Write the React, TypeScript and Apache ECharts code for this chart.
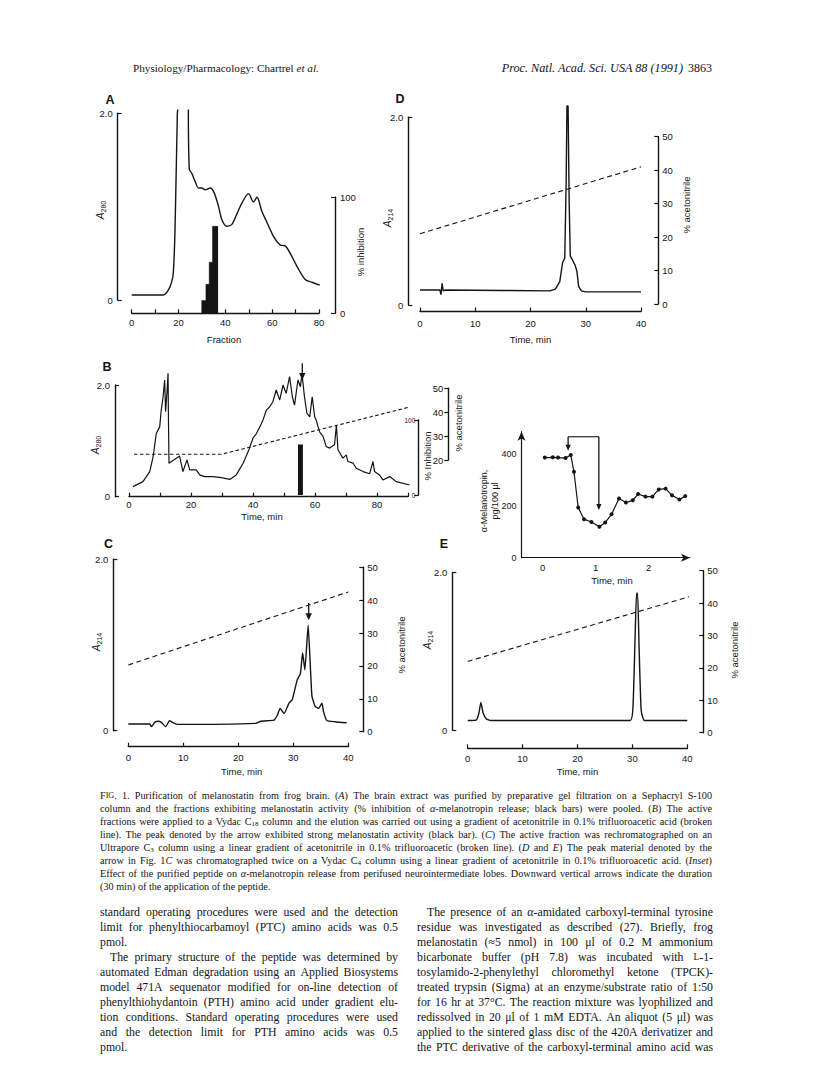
import React, { useEffect, useRef } from 'react';
import * as echarts from 'echarts';

// ---------------- DATA ----------------
// Panel A – gel filtration, A280 vs fraction
const aRiseFraction = [0, 13.5, 15.7, 17.1, 17.8, 18.5, 19.5, 19.7];
const aRiseA280 = [0.054, 0.054, 0.108, 0.197, 0.3, 0.75, 2.0, 2.04];
const aFallFraction = [24.2, 24.6, 25.6, 27.1, 28.5, 29.9, 31.4, 33.5, 35.2, 37.1, 38.5, 40.6, 42.8, 44.9, 47.1, 49.9, 52.0, 53.5, 55.6, 57.8, 60.6, 63.4, 65.6, 67.7, 70.6, 74.1, 77.0, 80.3];
const aFallA280 = [2.04, 1.4, 1.36, 1.27, 1.2, 1.2, 1.18, 1.2, 1.15, 1.0, 0.86, 0.79, 0.81, 0.92, 1.04, 1.14, 1.05, 1.1, 0.95, 0.83, 0.68, 0.59, 0.58, 0.5, 0.36, 0.22, 0.19, 0.16];
const aBarFraction = [29.8, 31.7, 33.1, 34.5, 36.9];
const aBarInhibition = [11, 25, 44, 75, 75];

// Panel B – Vydac C18
const bTime = [1.3, 4.5, 6.7, 7.8, 8.8, 9.9, 10.4, 11.0, 11.5, 11.8, 12.3, 12.6, 12.7, 12.9, 13.7, 15.3, 16.3, 17.4, 18.7, 19.6, 21.7, 22.8, 24.4, 27.1, 29.8, 32.5, 34.6, 36.8, 38.7, 40.0, 41.1, 42.2, 43.2, 44.3, 45.4, 46.4, 47.5, 48.6, 49.7, 50.7, 51.8, 52.7, 53.4, 54.5, 55.3, 55.8, 56.6, 57.4, 58.3, 59.1, 59.9, 60.4, 61.0, 61.5, 62.6, 63.6, 64.7, 66.3, 66.9, 67.4, 69.0, 70.1, 70.6, 72.3, 73.3, 75.5, 77.6, 78.7, 79.2, 80.8, 81.9, 84.1, 86.2, 90.5];
const bA280 = [0.18, 0.27, 0.45, 0.72, 1.13, 1.25, 1.55, 1.79, 2.09, 1.52, 1.91, 2.21, 1.52, 0.6, 0.63, 0.69, 0.73, 0.45, 0.66, 0.48, 0.48, 0.39, 0.36, 0.36, 0.34, 0.31, 0.39, 0.6, 0.84, 1.05, 1.13, 1.25, 1.37, 1.55, 1.61, 1.7, 1.91, 1.73, 2.0, 1.85, 2.15, 1.79, 1.64, 2.09, 1.97, 2.2, 1.79, 1.49, 1.43, 1.79, 1.43, 1.37, 1.25, 1.16, 1.08, 0.9, 0.87, 0.93, 1.28, 0.84, 0.69, 0.75, 0.63, 0.6, 0.51, 0.45, 0.41, 0.63, 0.45, 0.39, 0.3, 0.36, 0.27, 0.21];
const bGradTime = [1.6, 29.8, 91];
const bGradAcetonitrile = [22.4, 22.4, 42.3];
const bBarTime = [54.5, 56.1];
const bBarInhibition = [67, 67];
const bArrow = [55.9, 2.39, 2.09]; // time, from A280, to A280

// Panel C – Ultrapore C3
const cTime = [0, 3.9, 4.2, 4.8, 5.4, 6.0, 6.8, 7.5, 8.1, 8.9, 23.2, 24.1, 25.6, 26.5, 27.1, 27.6, 28.3, 29.2, 29.8, 30.7, 31.3, 31.7, 32.1, 32.7, 33.1, 33.4, 34.0, 34.6, 35.2, 35.5, 36.1, 37.6, 39.7];
const cA214 = [0.078, 0.078, 0.047, 0.097, 0.11, 0.097, 0.047, 0.117, 0.093, 0.074, 0.086, 0.11, 0.117, 0.124, 0.18, 0.26, 0.2, 0.32, 0.36, 0.59, 0.67, 0.91, 0.71, 1.23, 0.75, 0.4, 0.28, 0.26, 0.32, 0.22, 0.12, 0.105, 0.093];
const cGradTime = [0, 40];
const cGradAcetonitrile = [20.3, 42.5];
const cArrow = [32.8, 1.49, 1.29];

// Panel D – Vydac C4 (1st)
const dTime = [0, 3.6, 3.8, 4.0, 4.2, 4.6, 15, 23.5, 24.5, 25.3, 25.8, 26.2, 26.45, 26.6, 26.8, 27.0, 27.2, 27.6, 28.1, 28.4, 28.7, 29.2, 30, 40];
const dA214 = [0.16, 0.16, 0.11, 0.23, 0.15, 0.16, 0.155, 0.15, 0.17, 0.25, 0.45, 0.5, 1.3, 2.12, 2.12, 1.1, 0.52, 0.48, 0.42, 0.36, 0.2, 0.15, 0.14, 0.14];
const dGradTime = [0, 40];
const dGradAcetonitrile = [21, 41];

// Panel E – Vydac C4 (2nd)
const eTime = [0, 1.5, 2.0, 2.4, 2.8, 3.4, 4.2, 29.6, 30.1, 30.5, 30.75, 30.95, 31.2, 31.6, 32.2, 40];
const eA214 = [0.12, 0.125, 0.2, 0.35, 0.22, 0.14, 0.12, 0.12, 0.28, 1.2, 1.74, 1.74, 1.1, 0.25, 0.12, 0.12];
const eGradTime = [0, 40.4];
const eGradAcetonitrile = [22, 42];

// Inset – alpha-MSH release
const insetTime = [0.04, 0.19, 0.29, 0.43, 0.53, 0.59, 0.67, 0.78, 0.92, 1.07, 1.18, 1.3, 1.44, 1.57, 1.7, 1.8, 1.94, 2.07, 2.19, 2.32, 2.44, 2.58, 2.69];
const insetMsh = [387, 388, 387, 385, 397, 332, 194, 149, 138, 120, 136, 168, 229, 213, 222, 246, 236, 236, 264, 267, 241, 225, 238];
const insetPulse = [0.48, 1.06, 467.5, 413, 184]; // start, end, bracket level, left tip, right tip

// Tick label texts
const absTickLabels: Record<string, string> = { '0': '0', '2': '2.0' };

// Text content
const captionLines = [
  'F{sc|IG}. 1.  Purification of melanostatin from frog brain. ({i|A}) The brain extract was purified by preparative gel filtration on a Sephacryl S-100',
  'column and the fractions exhibiting melanostatin activity (% inhibition of {i|α}-melanotropin release; black bars) were pooled. ({i|B}) The active',
  'fractions were applied to a Vydac C{sub|18} column and the elution was carried out using a gradient of acetonitrile in 0.1% trifluoroacetic acid (broken',
  'line). The peak denoted by the arrow exhibited strong melanostatin activity (black bar). ({i|C}) The active fraction was rechromatographed on an',
  'Ultrapore C{sub|3} column using a linear gradient of acetonitrile in 0.1% trifluoroacetic (broken line). ({i|D} and {i|E}) The peak material denoted by the',
  'arrow in Fig. 1{i|C} was chromatographed twice on a Vydac C{sub|4} column using a linear gradient of acetonitrile in 0.1% trifluoroacetic acid. ({i|Inset})',
  'Effect of the purified peptide on {i|α}-melanotropin release from perifused neurointermediate lobes. Downward vertical arrows indicate the duration',
  '(30 min) of the application of the peptide.',
];
const captionJustified = [true, true, true, true, true, true, true, false];
const leftColumn = [
  'standard operating procedures were used and the detection',
  'limit for phenylthiocarbamoyl (PTC) amino acids was 0.5',
  'pmol.',
  '   The primary structure of the peptide was determined by',
  'automated Edman degradation using an Applied Biosystems',
  'model 471A sequenator modified for on-line detection of',
  'phenylthiohydantoin (PTH) amino acid under gradient elu-',
  'tion conditions. Standard operating procedures were used',
  'and the detection limit for PTH amino acids was 0.5',
  'pmol.',
];
const leftJustified = [true, true, false, true, true, true, true, true, true, false];
const rightColumn = [
  '   The presence of an {i|α}-amidated carboxyl-terminal tyrosine',
  'residue was investigated as described (27). Briefly, frog',
  'melanostatin (≈5 nmol) in 100 μl of 0.2 M ammonium',
  'bicarbonate buffer (pH 7.8) was incubated with {sc|L}-1-',
  'tosylamido-2-phenylethyl chloromethyl ketone (TPCK)-',
  'treated trypsin (Sigma) at an enzyme/substrate ratio of 1:50',
  'for 16 hr at 37°C. The reaction mixture was lyophilized and',
  'redissolved in 20 μl of 1 mM EDTA. An aliquot (5 μl) was',
  'applied to the sintered glass disc of the 420A derivatizer and',
  'the PTC derivative of the carboxyl-terminal amino acid was',
];

// ---------------- STYLE / LAYOUT ----------------
const INK = '#141414';
const SANS = "'Liberation Sans', Arial, Helvetica, sans-serif";
const SERIF = "'Liberation Serif', 'Times New Roman', serif";
const AXW = 1.4;

const zip = (xs: number[], ys: number[]) => xs.map((x, i) => [x, ys[i]]);

const grids = [
  { left: 131.7, top: 113.3, width: 187.3, height: 186.7 }, // 0 A
  { left: 131.7, top: 197.3, width: 187.3, height: 116 }, // 1 A inhibition
  { left: 420, top: 117.3, width: 221, height: 187.7 }, // 2 D
  { left: 420, top: 136.7, width: 221, height: 167.3 }, // 3 D acetonitrile
  { left: 129, top: 385, width: 279, height: 111.7 }, // 4 B
  { left: 129, top: 420, width: 279, height: 75 }, // 5 B inhibition
  { left: 129, top: 388.3, width: 279, height: 71.7 }, // 6 B acetonitrile
  { left: 128.3, top: 559.3, width: 220, height: 171.4 }, // 7 C
  { left: 128.3, top: 567.3, width: 220, height: 164.4 }, // 8 C acetonitrile
  { left: 467.7, top: 572.7, width: 219.6, height: 157.3 }, // 9 E
  { left: 467.7, top: 570.7, width: 219.6, height: 162 }, // 10 E acetonitrile
  { left: 521.5, top: 431.7, width: 168.5, height: 126 }, // 11 inset
].map((g) => ({ ...g, containLabel: false, outerBoundsMode: 'none' }));

const labelBase = { color: INK, fontFamily: SANS, fontSize: 9.5 };

function xAx(grid: number, min: number, max: number, interval: number, offset: number, every: number, margin: number, show = true) {
  return {
    type: 'value', gridIndex: grid, min, max, interval, position: 'bottom', offset, show,
    axisLine: { show: true, onZero: false, lineStyle: { color: INK, width: AXW } },
    axisTick: { show: true, inside: true, length: 4, lineStyle: { color: INK, width: 1.2 } },
    axisLabel: { ...labelBase, margin, showMinLabel: true, showMaxLabel: true, formatter: (v: number) => (v % every === 0 ? String(v) : '') },
    splitLine: { show: false },
  };
}
function hiddenX(grid: number, min: number, max: number) {
  return { type: 'value', gridIndex: grid, min, max, show: false, splitLine: { show: false } };
}
function yLeft(grid: number, offset: number) {
  return {
    type: 'value', gridIndex: grid, min: 0, max: 2, interval: 2, position: 'left', offset,
    axisLine: { show: true, onZero: false, lineStyle: { color: INK, width: AXW } },
    axisTick: { show: true, inside: true, length: 4, lineStyle: { color: INK, width: 1.2 } },
    axisLabel: { ...labelBase, margin: 5, showMinLabel: true, showMaxLabel: true, formatter: (v: number) => absTickLabels[String(v)] ?? '' },
    splitLine: { show: false },
  };
}
function yRight(grid: number, min: number, max: number, interval: number, offset: number, inside = false, fontSize = 9.5, margin = 4) {
  return {
    type: 'value', gridIndex: grid, min, max, interval, position: 'right', offset,
    axisLine: { show: true, onZero: false, lineStyle: { color: INK, width: AXW } },
    axisTick: { show: true, inside: true, length: 4, lineStyle: { color: INK, width: 1.2 } },
    axisLabel: { ...labelBase, fontSize, inside, margin, showMinLabel: true, showMaxLabel: true, formatter: (v: number) => String(v) },
    splitLine: { show: false },
  };
}

const xAxes = [
  xAx(0, 0, 80, 10, 13.3, 20, 4),
  hiddenX(1, 0, 80),
  xAx(2, 0, 40, 10, 6.5, 10, 7),
  hiddenX(3, 0, 40),
  xAx(4, 0, 90, 10, 0, 20, 3),
  hiddenX(5, 0, 90),
  hiddenX(6, 0, 90),
  xAx(7, 0, 40, 10, 16, 10, 6),
  hiddenX(8, 0, 40),
  xAx(9, 0, 40, 10, 18.3, 10, 5),
  hiddenX(10, 0, 40),
  {
    type: 'value', gridIndex: 11, min: -0.4, max: 2.78, interval: 0.2, position: 'bottom',
    axisLine: { show: true, onZero: false, symbol: ['none', 'arrow'], symbolSize: [6, 9], lineStyle: { color: INK, width: 1.2 } },
    axisTick: { show: false },
    axisLabel: {
      ...labelBase, margin: 5,
      formatter: (v: number) => {
        const r = Math.round(v);
        return Math.abs(v - r) < 1e-6 && r >= 0 ? String(r) : '';
      },
    },
    splitLine: { show: false },
  },
];

const yAxes = [
  yLeft(0, 14),
  yRight(1, 0, 100, 100, 16, false, 9.5, 5),
  yLeft(2, 11.7),
  yRight(3, 0, 50, 10, 17.3),
  yLeft(4, 14),
  yRight(5, 0, 100, 100, 10.3, true, 6.5, 3),
  yRight(6, 20, 50, 10, 40.3, true, 9.5, 5),
  yLeft(7, 15),
  yRight(8, 0, 50, 10, 15),
  yLeft(9, 15.4),
  yRight(10, 0, 50, 10, 16),
  {
    type: 'value', gridIndex: 11, min: 0, max: 487, interval: 200, position: 'left',
    axisLine: { show: true, onZero: false, symbol: ['none', 'arrow'], symbolSize: [6, 9], lineStyle: { color: INK, width: 1.2 } },
    axisTick: { show: false },
    axisLabel: { ...labelBase, fontSize: 9, margin: 5, formatter: (v: number) => (v % 200 === 0 ? String(v) : '') },
    splitLine: { show: false },
  },
];

function lineS(idx: number, xs: number[], ys: number[], extra: any = {}) {
  return {
    type: 'line', xAxisIndex: idx, yAxisIndex: idx, data: zip(xs, ys), symbol: 'none', showSymbol: false,
    lineStyle: { color: INK, width: 1.4 }, itemStyle: { color: INK }, silent: true, animation: false, z: 3, ...extra,
  };
}
const dashed = (idx: number, xs: number[], ys: number[]) =>
  lineS(idx, xs, ys, { clip: false, lineStyle: { color: INK, width: 1.1, type: [5, 3.5] } });
const barArea = (idx: number, xs: number[], ys: number[]) =>
  lineS(idx, xs, ys, { step: 'end', areaStyle: { color: INK, opacity: 1 }, lineStyle: { color: INK, width: 0.5 } });

function downArrow(x1: number, y1: number, x2: number, y2: number, w: number, h: number) {
  return [
    { type: 'line', shape: { x1, y1, x2, y2: y2 - h + 1 }, style: { stroke: INK, lineWidth: 1.3 } },
    { type: 'polygon', shape: { points: [[x2 - w, y2 - h], [x2 + w, y2 - h], [x2, y2]] }, style: { fill: INK } },
  ];
}

function arrowS(idx: number, spec: number[]) {
  return {
    type: 'custom', xAxisIndex: idx, yAxisIndex: idx, silent: true, clip: false, z: 5,
    data: [spec], encode: { x: 0, y: [1, 2] },
    renderItem: (_p: any, api: any) => {
      const a = api.coord([api.value(0), api.value(1)]);
      const b = api.coord([api.value(0), api.value(2)]);
      return { type: 'group', children: downArrow(a[0], a[1], b[0], b[1], 3.2, 7) };
    },
  };
}

const bracketS = {
  type: 'custom', xAxisIndex: 11, yAxisIndex: 11, silent: true, clip: false, z: 5,
  data: [insetPulse], encode: { x: [0, 1], y: [2, 3, 4] },
  renderItem: (_p: any, api: any) => {
    const p0 = api.coord([api.value(0), api.value(2)]);
    const p1 = api.coord([api.value(1), api.value(2)]);
    const tl = api.coord([api.value(0), api.value(3)]);
    const tr = api.coord([api.value(1), api.value(4)]);
    return {
      type: 'group',
      children: [
        { type: 'line', shape: { x1: p0[0], y1: p0[1], x2: p1[0], y2: p1[1] }, style: { stroke: INK, lineWidth: 1.1 } },
        ...downArrow(p0[0], p0[1], tl[0], tl[1], 2.6, 6),
        ...downArrow(p1[0], p1[1], tr[0], tr[1], 2.6, 6),
      ],
    };
  },
};

const series = [
  // A
  lineS(0, aRiseFraction, aRiseA280, { clip: false, smooth: 0.2 }),
  lineS(0, aFallFraction, aFallA280, { clip: false, smooth: 0.3 }),
  barArea(1, aBarFraction, aBarInhibition),
  // D
  lineS(2, dTime, dA214, { clip: false }),
  dashed(3, dGradTime, dGradAcetonitrile),
  // B
  lineS(4, bTime, bA280, { clip: false, lineStyle: { color: INK, width: 1.2 } }),
  arrowS(4, bArrow),
  barArea(5, bBarTime, bBarInhibition),
  lineS(6, bGradTime, bGradAcetonitrile, { clip: false, lineStyle: { color: INK, width: 1.1, type: [3.5, 2.5] } }),
  // C
  lineS(7, cTime, cA214, { clip: false, smooth: 0.15 }),
  arrowS(7, cArrow),
  dashed(8, cGradTime, cGradAcetonitrile),
  // E
  lineS(9, eTime, eA214, { clip: false, smooth: 0.15 }),
  dashed(10, eGradTime, eGradAcetonitrile),
  // Inset
  lineS(11, insetTime, insetMsh, { symbol: 'circle', showSymbol: true, symbolSize: 4, lineStyle: { color: INK, width: 1.2 } }),
  bracketS,
];

// ---------------- TEXT (graphic) ----------------
const V = Math.PI / 2;
function T(x: number, y: number, text: string, o: any = {}) {
  const align = o.align ?? 'left';
  return {
    type: 'text', x, y, rotation: o.rot ?? 0, silent: true, z: 100,
    style: {
      text, fill: INK,
      fontFamily: o.family ?? SANS, fontSize: o.size ?? 9.5, fontWeight: o.weight ?? 'normal', fontStyle: o.fstyle ?? 'normal',
      align, textAlign: align, verticalAlign: 'middle', textVerticalAlign: 'middle',
      lineHeight: o.lh, rich: o.rich,
    },
  };
}
const absRich = {
  it: { fontFamily: SANS, fontSize: 10, fontStyle: 'italic' },
  sub: { fontFamily: SANS, fontSize: 7, verticalAlign: 'bottom' },
};
const absTitle = (x: number, y: number, sub: string) => T(x, y, `{it|A}{sub|${sub}}`, { rot: V, align: 'center', rich: absRich, lh: 13 });
const serifRich = (size: number) => ({
  i: { fontFamily: SERIF, fontSize: size, fontStyle: 'italic' },
  sc: { fontFamily: SERIF, fontSize: size * 0.8 },
  sub: { fontFamily: SERIF, fontSize: size * 0.7, verticalAlign: 'bottom' },
  n: { fontFamily: SERIF, fontSize: size },
});

// measurement for justified text
let measureCtx: CanvasRenderingContext2D | null = null;
function getCtx() {
  if (!measureCtx) measureCtx = document.createElement('canvas').getContext('2d');
  return measureCtx as CanvasRenderingContext2D;
}
function segments(word: string) {
  const out: { text: string; tag: string }[] = [];
  const re = /\{(\w+)\|([^}]*)\}/g;
  let last = 0;
  let m: RegExpExecArray | null;
  while ((m = re.exec(word))) {
    if (m.index > last) out.push({ text: word.slice(last, m.index), tag: 'n' });
    out.push({ text: m[2], tag: m[1] });
    last = re.lastIndex;
  }
  if (last < word.length) out.push({ text: word.slice(last), tag: 'n' });
  return out;
}
function wordWidth(word: string, size: number) {
  const c = getCtx();
  let w = 0;
  for (const s of segments(word)) {
    const fs = s.tag === 'sc' ? size * 0.8 : s.tag === 'sub' ? size * 0.7 : size;
    c.font = `${s.tag === 'i' ? 'italic ' : ''}${fs}px ${SERIF}`;
    w += c.measureText(s.text).width;
  }
  return w;
}
function setLine(line: string, x0: number, x1: number, y: number, size: number, justified: boolean, lh?: number) {
  const lead = (line.match(/^\s*/) as RegExpMatchArray)[0].length;
  const indent = lead > 0 ? 10 : 0;
  const words = line.trim().split(/\s+/);
  const widths = words.map((w) => wordWidth(w, size));
  const c = getCtx();
  c.font = `${size}px ${SERIF}`;
  const space = c.measureText(' ').width;
  const total = widths.reduce((a, b) => a + b, 0);
  const gaps = words.length - 1;
  let gap = space;
  if (justified && gaps > 0) gap = Math.max(space * 0.6, (x1 - x0 - indent - total) / gaps);
  let x = x0 + indent;
  return words.map((w, i) => {
    const el = T(x, y, w, { family: SERIF, size, rich: serifRich(size), lh });
    x += widths[i] + gap;
    return el;
  });
}

const CAP_SIZE = 10.2;
const BODY_SIZE = 11.8;

function buildTexts() {
  const texts: any[] = [
    // running head
    T(133, 68, '{n|Physiology/Pharmacology: Chartrel }{i|et al.}', { family: SERIF, size: 11.2, rich: serifRich(11.2) }),
    T(683, 68, 'Proc. Natl. Acad. Sci. USA 88 (1991)', { family: SERIF, size: 12.2, fstyle: 'italic', align: 'right' }),
    T(712, 68, '3863', { family: SERIF, size: 12, align: 'right' }),
    // panel letters
    T(110, 100, 'A', { size: 12.5, weight: 'bold', align: 'center' }),
    T(107, 367, 'B', { size: 12.5, weight: 'bold', align: 'center' }),
    T(108.5, 544, 'C', { size: 12.5, weight: 'bold', align: 'center' }),
    T(400, 99, 'D', { size: 12.5, weight: 'bold', align: 'center' }),
    T(444, 544, 'E', { size: 12.5, weight: 'bold', align: 'center' }),
    // axis titles
    absTitle(100, 210, '280'),
    absTitle(95, 445, '280'),
    absTitle(96, 642, '214'),
    absTitle(387, 218, '214'),
    absTitle(427, 640, '214'),
    T(224, 339, 'Fraction', { align: 'center' }),
    T(530.5, 339, 'Time, min', { align: 'center' }),
    T(262, 516, 'Time, min', { align: 'center' }),
    T(241.7, 771, 'Time, min', { align: 'center' }),
    T(577.5, 771, 'Time, min', { align: 'center' }),
    T(612, 580, 'Time, min', { align: 'center' }),
    T(360, 252, '% inhibition', { rot: V, align: 'center' }),
    T(427, 456, '% Inhibition', { rot: V, align: 'center' }),
    T(458, 423, '% acetonitrile', { rot: V, align: 'center' }),
    T(686, 205, '% acetonitrile', { rot: V, align: 'center' }),
    T(401.7, 645, '% acetonitrile', { rot: V, align: 'center' }),
    T(734, 650, '% acetonitrile', { rot: V, align: 'center' }),
    T(489, 501, 'α-Melanotropin,\npg/100 μl', { rot: V, align: 'center', lh: 11, size: 9 }),
  ];
  captionLines.forEach((line, i) => {
    texts.push(...setLine(line, 100, 712, 795 + i * 13, CAP_SIZE, captionJustified[i], 13));
  });
  leftColumn.forEach((line, i) => {
    texts.push(...setLine(line, 100, 398, 912 + i * 15, BODY_SIZE, leftJustified[i]));
  });
  rightColumn.forEach((line, i) => {
    texts.push(...setLine(line, 417, 713, 912 + i * 15, BODY_SIZE, true));
  });
  return texts;
}

function buildOption() {
  return {
    animation: false,
    backgroundColor: '#ffffff',
    textStyle: { fontFamily: SANS, color: INK },
    grid: grids,
    xAxis: xAxes,
    yAxis: yAxes,
    series,
    graphic: { elements: buildTexts() },
  };
}

export default function App() {
  const ref = useRef<HTMLDivElement>(null);
  useEffect(() => {
    if (!ref.current) return;
    const chart = echarts.init(ref.current, null, { renderer: 'svg' });
    chart.setOption(buildOption() as any);
    return () => chart.dispose();
  }, []);
  return (
    <div
      ref={ref}
      style={{ position: 'absolute', left: 0, top: 0, width: 816, height: 1082, background: '#ffffff' }}
    />
  );
}
